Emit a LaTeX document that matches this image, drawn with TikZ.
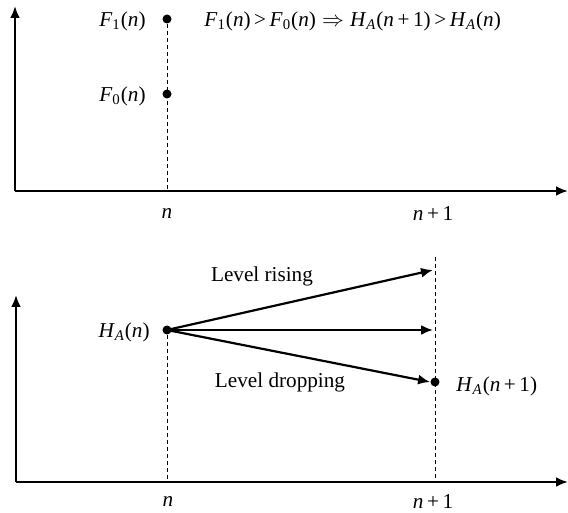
\documentclass[tikz,border=0pt]{standalone}
\usepackage{fontspec}
\setmainfont{Liberation Serif}
\usetikzlibrary{arrows.meta}
\newcommand\iv[1]{\textit{#1}}
\newcommand\sbs[1]{\textsubscript{#1}}
\newcommand\Fl[1]{\iv{F}\sbs{#1}(\iv{n})}
\newcommand\HA[1]{\iv{H}\sbs{\iv{A}}(#1)}
\begin{document}
\begin{tikzpicture}[x=0.5pt,y=-0.5pt,
  axis/.style={line width=1.2pt,-{Latex[length=6pt,width=5pt]}},
  guide/.style={dashed,line width=0.5pt,dash pattern=on 2pt off 1.5pt},
  dot/.style={circle,fill=black,inner sep=0pt,minimum size=4.5pt},
  flow/.style={line width=1.1pt,-{Latex[length=6pt,width=5pt]}},
  lbl/.style={font=\fontsize{10.6}{12}\selectfont,inner sep=1pt}]
\useasboundingbox (0,0) rectangle (568,513);
% ---------- top panel
\coordinate (o1) at (15,191);
\coordinate (y1) at (15,6);
\coordinate (x1) at (568,191);
\draw[axis] (o1) -- (y1);
\draw[axis] (o1) -- (x1);
\node[dot] (f1) at (167,19) {};
\node[dot] (f0) at (167,94) {};
\coordinate (b1) at (167,191);
\draw[guide] (f1) -- (b1);
\node[lbl,anchor=east] (lf1) at (148,21) {\Fl{1}};
\node[lbl,anchor=east] (lf0) at (148,96) {\Fl{0}};
\node[lbl,anchor=west] (eq) at (202,21) {\Fl{1}\,>\,\Fl{0}$\;\Rightarrow\;$\HA{\iv{n}\,+\,1}\,>\,\HA{\iv{n}}};
\node[lbl] (tn1) at (167,214) {\iv{n}};
\node[lbl] (tnp1) at (433,214) {\iv{n}\,+\,1};
% ---------- bottom panel
\coordinate (o2) at (16,482);
\coordinate (y2) at (16,295);
\coordinate (x2) at (568,482);
\draw[axis] (o2) -- (y2);
\draw[axis] (o2) -- (x2);
\node[dot] (ha) at (167,330) {};
\node[dot] (hb) at (435,382) {};
\coordinate (b2) at (167,482);
\coordinate (t3) at (435,257);
\coordinate (b3) at (435,482);
\draw[guide] (ha) -- (b2);
\draw[guide] (t3) -- (b3);
\coordinate (up) at (433,270);
\coordinate (mid) at (433,330);
\draw[flow] (ha.center) -- (up);
\draw[flow] (ha.center) -- (mid);
\draw[flow] (ha.center) -- (hb.west);
\node[lbl,anchor=east] (lha) at (152,332) {\HA{\iv{n}}};
\node[lbl,anchor=west] (lhb) at (454,386) {\HA{\iv{n}\,+\,1}};
\node[lbl] (rise) at (262,276) {Level rising};
\node[lbl] (drop) at (280,382) {Level dropping};
\node[lbl] (bn1) at (168,502) {\iv{n}};
\node[lbl] (bnp1) at (433,502) {\iv{n}\,+\,1};
\end{tikzpicture}
\end{document}
